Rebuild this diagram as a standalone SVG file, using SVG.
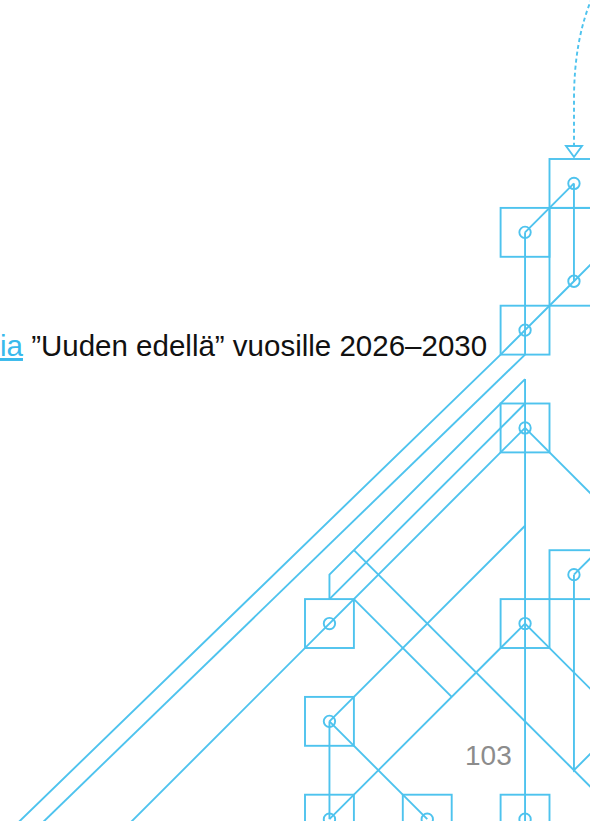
<svg xmlns="http://www.w3.org/2000/svg" width="590" height="821" viewBox="0 0 590 821">
  <style>
    .ln { fill: none; stroke: #4EC3EE; stroke-width: 1.9; stroke-linejoin: miter; }
    .bx { fill: none; stroke: #4EC3EE; stroke-width: 1.9; }
    .dot { fill: none; stroke: #4EC3EE; stroke-width: 1.9; }
    .dash { fill: none; stroke: #4EC3EE; stroke-width: 1.9; stroke-dasharray: 4 3; }
    .txt { font-family: 'Liberation Sans', Arial, sans-serif; font-size: 29.5px; fill: #111111; }
    .lnk { fill: #38B9EC; text-decoration: underline; }
    .pg { font-family: 'Liberation Sans', Arial, sans-serif; font-size: 28px; fill: #8C8C8C; }
  </style>
  <defs>
    <marker id="openTri" markerUnits="userSpaceOnUse" viewBox="-2 -10 15 20" markerWidth="15" markerHeight="20" refX="11" refY="0" orient="auto">
      <path d="M0,-8 L0,8 L11,0 Z" fill="#FFFFFF" stroke="#4EC3EE" stroke-width="1.9"/>
    </marker>
  </defs>
  <rect x="0" y="0" width="590" height="821" fill="#FFFFFF"/>

  <g id="connectors">
    <path class="dash" d="M592,-2 Q574,40 574,100 L574,157" marker-end="url(#openTri)"/>
    <polyline class="ln" points="573.95,183.45 525.05,232.35"/>
    <polyline class="ln" points="573.95,183.45 573.95,281.25"/>
    <polyline class="ln" points="525.05,232.35 525.05,354.6"/>
    <polyline class="ln" points="600,255.2 573.95,281.25 500.6,354.6 10.5,830"/>
    <polyline class="ln" points="525.05,354.6 34.9,830"/>
    <polyline class="ln" points="525.05,379.05 525.05,830"/>
    <polyline class="ln" points="525.05,379.05 329.45,574.65 329.45,599.1"/>
    <polyline class="ln" points="525.05,403.5 329.45,599.1"/>
    <polyline class="ln" points="525.05,427.95 500.6,452.4 123,830"/>
    <polyline class="ln" points="525.05,427.95 600,502.9"/>
    <polyline class="ln" points="353.9,550.2 600,796.3"/>
    <polyline class="ln" points="353.9,599.1 451.7,696.9"/>
    <polyline class="ln" points="525.05,525.75 329.45,721.35"/>
    <polyline class="ln" points="329.45,721.35 427.25,819.15"/>
    <polyline class="ln" points="329.45,721.35 329.45,819.15"/>
    <polyline class="ln" points="329.45,819.15 500.6,648 525.05,623.55"/>
    <polyline class="ln" points="525.05,623.55 600,698.5"/>
    <polyline class="ln" points="573.95,574.65 600,548.6"/>
    <polyline class="ln" points="573.95,574.65 573.95,770.25 600,744.2"/>
  </g>

  <g id="node-1"><rect class="bx" x="549.5" y="159" width="48.9" height="48.9"/><circle class="dot" cx="573.95" cy="183.45" r="5.7"/></g>
  <g id="node-2"><rect class="bx" x="500.6" y="207.9" width="48.9" height="48.9"/><circle class="dot" cx="525.05" cy="232.35" r="5.7"/></g>
  <g id="node-3"><rect class="bx" x="549.5" y="207.9" width="48.9" height="97.8"/><circle class="dot" cx="573.95" cy="281.25" r="5.7"/></g>
  <g id="node-4"><rect class="bx" x="500.6" y="305.7" width="48.9" height="48.9"/><circle class="dot" cx="525.05" cy="330.15" r="5.7"/></g>
  <g id="node-5"><rect class="bx" x="500.6" y="403.5" width="48.9" height="48.9"/><circle class="dot" cx="525.05" cy="427.95" r="5.7"/></g>
  <g id="node-6"><rect class="bx" x="549.5" y="550.2" width="48.9" height="48.9"/><circle class="dot" cx="573.95" cy="574.65" r="5.7"/></g>
  <g id="node-7"><rect class="bx" x="305" y="599.1" width="48.9" height="48.9"/><circle class="dot" cx="329.45" cy="623.55" r="5.7"/></g>
  <g id="node-8"><rect class="bx" x="500.6" y="599.1" width="48.9" height="48.9"/><circle class="dot" cx="525.05" cy="623.55" r="5.7"/></g>
  <g id="node-9"><rect class="bx" x="305" y="696.9" width="48.9" height="48.9"/><circle class="dot" cx="329.45" cy="721.35" r="5.7"/></g>
  <g id="node-10"><rect class="bx" x="305" y="794.7" width="48.9" height="48.9"/><circle class="dot" cx="329.45" cy="819.15" r="5.7"/></g>
  <g id="node-11"><rect class="bx" x="402.8" y="794.7" width="48.9" height="48.9"/><circle class="dot" cx="427.25" cy="819.15" r="5.7"/></g>
  <g id="node-12"><rect class="bx" x="500.6" y="794.7" width="48.9" height="48.9"/><circle class="dot" cx="525.05" cy="819.15" r="5.7"/></g>

  <g id="title">
    <text class="txt" x="0" y="356"><tspan class="lnk">ia</tspan> ”Uuden edellä” vuosille 2026–2030</text>
  </g>
  <g id="page-number">
    <text class="pg" x="465" y="765">103</text>
  </g>
</svg>
